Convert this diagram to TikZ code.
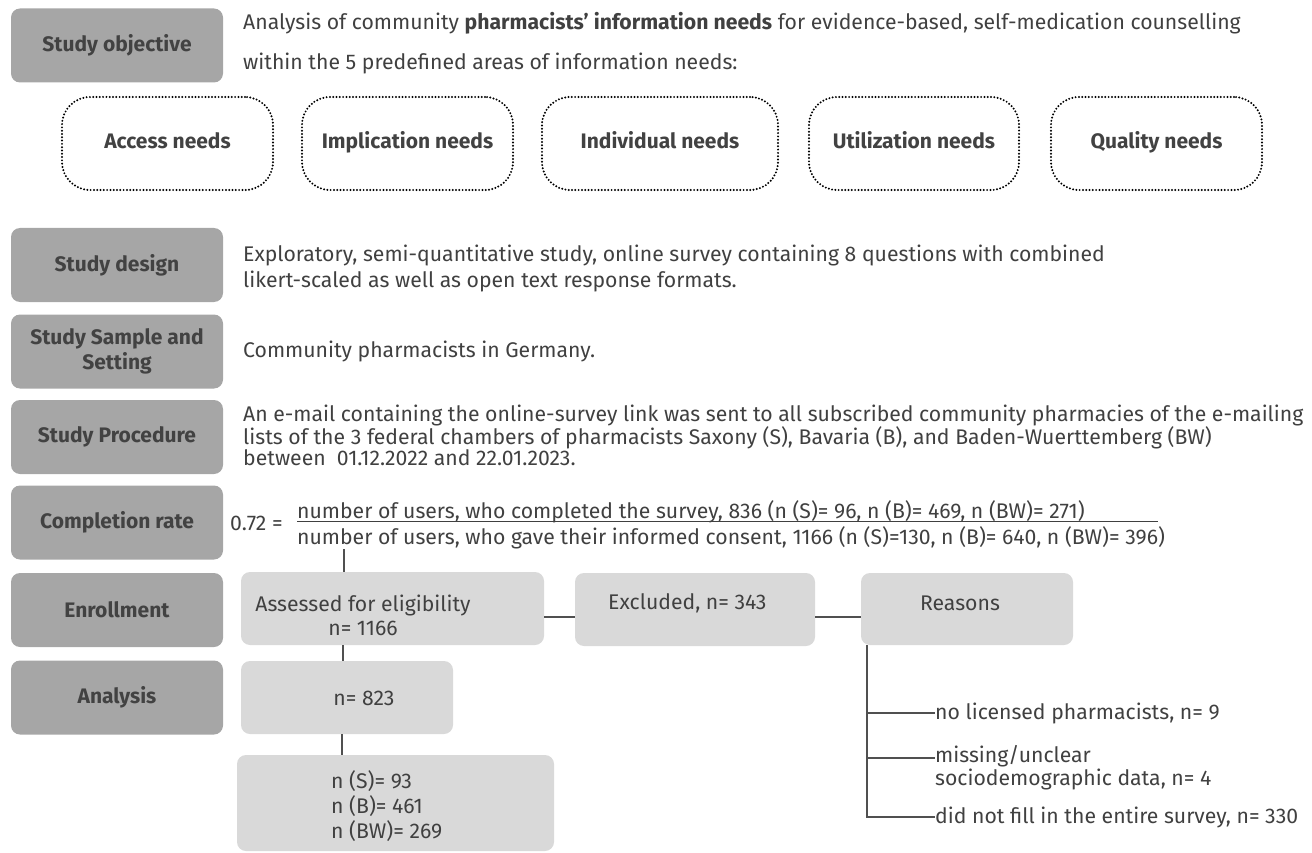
\documentclass[tikz,border=0pt]{standalone}
\usepackage{fontspec}
\setmainfont{Fira Sans}
\usetikzlibrary{calc}
\definecolor{dboxfill}{RGB}{166,166,166}
\definecolor{lboxfill}{RGB}{217,217,217}
\definecolor{labtext}{RGB}{66,66,66}
\definecolor{bodytext}{RGB}{64,64,64}
\definecolor{conn}{RGB}{80,80,80}
\newcommand{\bodyfont}{\fontsize{21.2}{24.5}\selectfont}
\newcommand{\labfont}{\fontsize{21}{25}\selectfont\bfseries}
\begin{document}
\begin{tikzpicture}[x=1pt,y=-1pt,
  dbox/.style={fill=dboxfill, rounded corners=9pt, minimum width=212pt, minimum height=74pt, inner sep=0pt, font=\labfont, text=labtext, align=center},
  needbox/.style={draw=black, line width=2.2pt, dash pattern=on 0pt off 3.3pt, line cap=round, rounded corners=28pt, minimum height=93pt, inner sep=0pt, text height=15pt, text depth=5pt, font=\labfont, text=labtext},
  lbox/.style={fill=lboxfill, rounded corners=9pt, inner sep=0pt},
  btext/.style={font=\bodyfont, text=bodytext, inner sep=0pt, align=left},
  conline/.style={draw=conn, line width=1.2pt}
]
\useasboundingbox (0,0) rectangle (1312,853);

% left column boxes
\node[dbox] (objective) at (117,45.5) {Study objective};
\node[dbox] (design) at (117,265) {Study design};
\node[dbox] (sample) at (117,351.5) {Study Sample and\\Setting};
\node[dbox] (procedure) at (117,437) {Study Procedure};
\node[dbox] (completion) at (117,522.5) {Completion rate};
\node[dbox] (enrollment) at (117,610) {Enrollment};
\node[dbox] (analysis) at (117,697.5) {Analysis};

% objective text
\node[btext, anchor=west] (objtext1) at (243,23) {Analysis of community \textbf{pharmacists' information needs} for evidence-based, self-medication counselling};
\node[btext, anchor=west] (objtext2) at (243,63) {within the 5 predefined areas of information needs:};

% need boxes
\node[needbox, minimum width=211pt] (access) at (167.5,143.5) {Access needs};
\node[needbox, minimum width=211pt] (implication) at (407.5,143.5) {Implication needs};
\node[needbox, minimum width=236pt] (individual) at (660,143.5) {Individual needs};
\node[needbox, minimum width=210pt] (utilization) at (914,143.5) {Utilization needs};
\node[needbox, minimum width=211pt] (quality) at (1156.5,143.5) {Quality needs};

% texts
\node[btext, anchor=west, font=\fontsize{21.2}{26}\selectfont] (designtext) at (243,268.5) {Exploratory, semi-quantitative study, online survey containing 8 questions with combined\\likert-scaled as well as open text response formats.};
\node[btext, anchor=west] (sampletext) at (243,351) {Community pharmacists in Germany.};
\node[btext, anchor=west, font=\fontsize{21.2}{20.5}\selectfont] (proctext) at (243,435) {An e-mail containing the online-survey link was sent to all subscribed community pharmacies of the e-mailing\\lists of the 3 federal chambers of pharmacists Saxony (S), Bavaria (B), and Baden-Wuerttemberg (BW)\\between\ \ 01.12.2022 and 22.01.2023.};

% completion rate fraction
\node[btext, anchor=west] (ratio) at (230,523) {0.72 =};
\node[btext, anchor=base west] (numer) at (297,518) {number of users, who completed the survey, 836 (n (S)= 96, n (B)= 469, n (BW)= 271)};
\node[btext, anchor=base west] (denom) at (297,544) {number of users, who gave their informed consent, 1166 (n (S)=130, n (B)= 640, n (BW)= 396)};
\coordinate (ulend) at (1158,521.5);
\draw[draw=bodytext, line width=0.9pt] (numer.base west |- ulend) -- (ulend);

% flow boxes
\node[lbox, minimum width=303pt, minimum height=73pt] (assessed) at (392.5,608.5) {};
\node[btext, align=center, font=\fontsize{21.2}{24}\selectfont] (assessedtext) at (363,615) {Assessed for eligibility\\n= 1166};
\node[lbox, minimum width=240pt, minimum height=73pt] (excluded) at (695,609.5) {};
\node[btext, anchor=west] (excludedtext) at (608,603) {Excluded, n= 343};
\node[lbox, minimum width=212pt, minimum height=72pt] (reasons) at (967,609) {};
\node[btext] (reasonstext) at (960,603) {Reasons};
\node[lbox, minimum width=212pt, minimum height=73pt] (n823) at (347,697.5) {};
\node[btext] (n823text) at (364,698) {n= 823};
\node[lbox, minimum width=317pt, minimum height=96pt] (regions) at (395.5,803) {};
\node[btext, anchor=west, font=\fontsize{21.2}{25}\selectfont] (regionstext) at (331,806) {n (S)= 93\\n (B)= 461\\n (BW)= 269};

% reasons list
\node[btext, anchor=west] (r1) at (935,713) {no licensed pharmacists, n= 9};
\node[btext, anchor=north west, font=\fontsize{21.2}{23}\selectfont] (r2) at (935,745) {missing/unclear\\sociodemographic data, n= 4};
\node[btext, anchor=west] (r3) at (935,817) {did not fill in the entire survey, n= 330};

% connectors
\coordinate (fracbot) at (344,549);
\coordinate (vx) at (343,0);
\coordinate (trunk) at (867,0);
\draw[conline] (fracbot) -- (fracbot |- assessed.north);
\draw[conline] (vx |- assessed.south) -- (vx |- n823.north);
\draw[conline] ([xshift=-1pt]vx |- n823.south) -- ([xshift=-1pt]vx |- regions.north);
\draw[conline] (assessed.east |- 0,617) -- (excluded.west |- 0,617);
\draw[conline] (excluded.east |- 0,617) -- (reasons.west |- 0,617);
\draw[conline] (trunk |- reasons.south) -- (trunk |- r3.west) -- (r3.west);
\draw[conline] (trunk |- r1.west) -- (r1.west);
\draw[conline] (trunk |- 0,758) -- (r2.north west |- 0,758);
\end{tikzpicture}
\end{document}
